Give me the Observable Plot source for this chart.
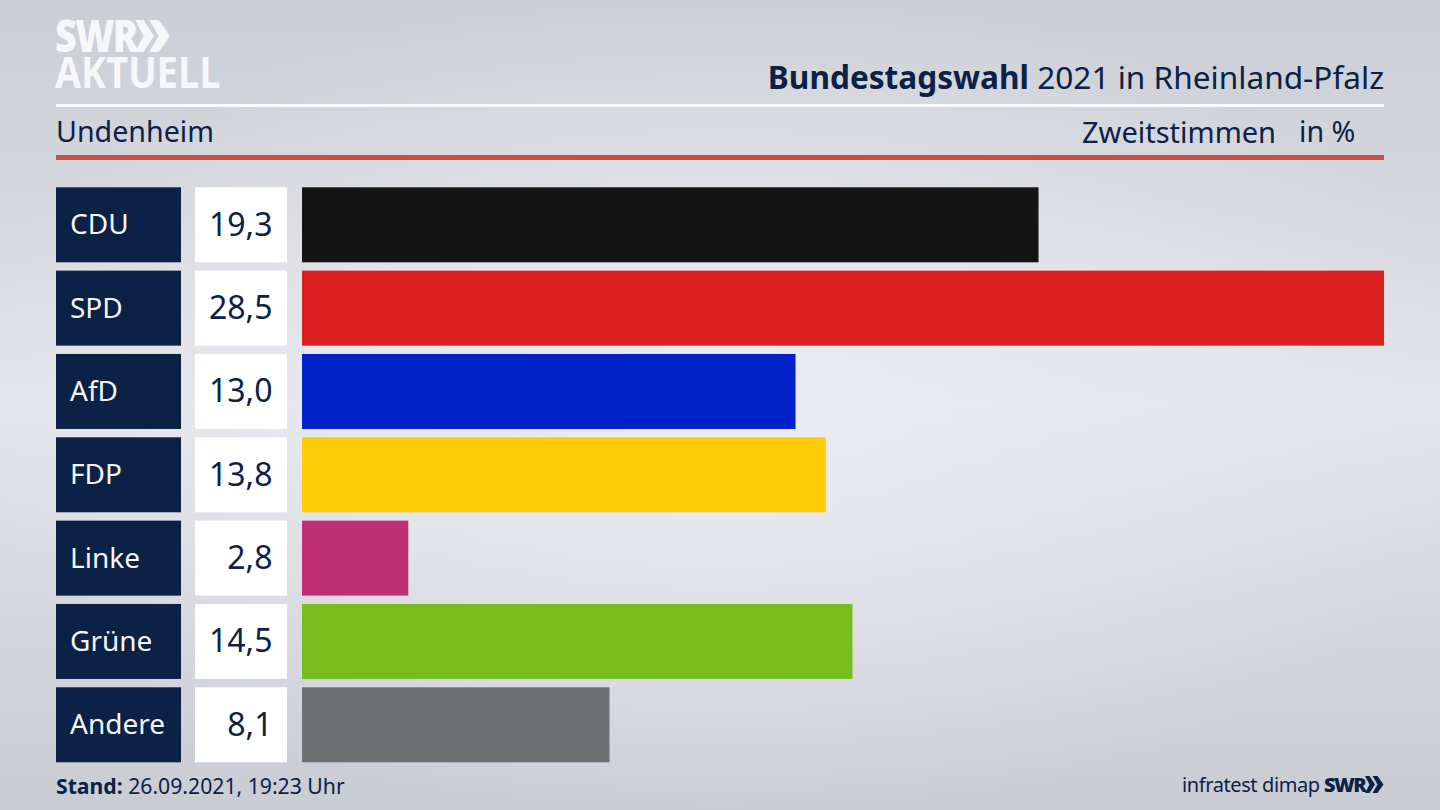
<!DOCTYPE html>
<html lang="de">
<head>
<meta charset="utf-8">
<script src="https://cdn.jsdelivr.net/npm/d3@7"></script>
<script src="https://cdn.jsdelivr.net/npm/@observablehq/plot@0.6"></script>
<style>
html,body{margin:0;padding:0;width:1440px;height:810px;overflow:hidden}
body{position:relative;font-family:"Noto Sans",sans-serif;color:#0b2145;
background:
 radial-gradient(ellipse 780px 420px at 50% 50%,rgba(236,237,242,.9) 0%,rgba(236,237,242,0) 100%),
 linear-gradient(180deg,#cbced5 0%,#d5d7dd 25%,#e4e5ea 50%,#d5d7dd 75%,#c9ccd3 100%);}
.t{position:absolute;white-space:nowrap;line-height:1}
.rule{position:absolute;left:56px;width:1328px}
.col{position:absolute;top:0}
.col svg{display:block}
</style>
</head>
<body>
<div class="t" style="left:55px;top:19px;font:900 45px/32px 'Open Sans',sans-serif;color:#f6f7f9;letter-spacing:-2px;transform:scaleX(.84);transform-origin:left top">SWR</div>
<svg style="position:absolute;left:135px;top:20px" width="36" height="32" viewBox="0 0 38 34" fill="#f6f7f9"><path d="M0 0 L9 0 L20 17 L9 34 L0 34 L9 17Z"/><path d="M15 0 L25 0 L37 17 L25 34 L15 34 L25 17Z"/></svg>
<div class="t" style="left:55px;top:56px;font:700 43px/31px 'Open Sans',sans-serif;color:#f6f7f9;letter-spacing:0;transform:scaleX(.88);transform-origin:left top">AKTUELL</div>
<div class="t" style="right:56px;top:61px;font-size:31.6px"><b>Bundestagswahl</b> 2021 in Rheinland-Pfalz</div>
<div class="rule" style="top:104px;height:3px;background:#fbfbfc"></div>
<div class="t" style="left:56px;top:117px;font-size:28.6px">Undenheim</div>
<div class="t" style="left:1082px;top:117px;font-size:29px">Zweitstimmen</div>
<div class="t" style="left:1299px;top:117px;font-size:28.6px">in %</div>
<div class="rule" style="top:155px;height:5px;background:#c9503f"></div>
<div class="col" id="names" style="left:56px"></div>
<div class="col" id="vals" style="left:195px"></div>
<div class="col" id="bars" style="left:302px"></div>
<div class="t" style="left:56px;top:775px;font-size:21.2px"><b>Stand:</b> 26.09.2021, 19:23 Uhr</div>
<div class="t" style="left:1182px;top:775px;font-size:20px;letter-spacing:-.4px">infratest dimap</div>
<div class="t" style="left:1324px;top:776px;font:900 20px/17px 'Open Sans',sans-serif;letter-spacing:-1.5px">SWR</div>
<svg style="position:absolute;left:1365px;top:776px" width="19" height="17" viewBox="0 0 38 34" fill="#0b2145"><path d="M0 0 L9 0 L20 17 L9 34 L0 34 L9 17Z"/><path d="M15 0 L25 0 L37 17 L25 34 L15 34 L25 17Z"/></svg>
<script>
const parties = ["CDU","SPD","AfD","FDP","Linke","Grüne","Andere"];
const valueLabels = ["19,3","28,5","13,0","13,8","2,8","14,5","8,1"];
// Bar lengths (the CDU bar is drawn slightly longer than its printed 19,3).
const barValues = [19.4,28.5,13.0,13.8,2.8,14.5,8.1];
const barColors = ["#141414","#d9201f","#0022c8","#ffcc08","#be3075","#78bd1b","#6f7072"];
const navy = "#0b2145";

const rows = parties.map((party,i)=>({party,label:valueLabels[i],value:barValues[i],color:barColors[i]}));
const yScale = {domain:parties,paddingInner:0.1,paddingOuter:0,round:false,axis:null};
const frame = {height:810,marginTop:187.3,marginBottom:47.7,marginLeft:0,marginRight:0,
  style:{background:"transparent",fontFamily:"'Noto Sans',sans-serif",overflow:"visible"}};

document.getElementById("names").append(Plot.plot({...frame,width:125,
  x:{domain:[0,1],axis:null},y:yScale,
  marks:[
    Plot.barX(rows,{x:()=>1,y:"party",fill:navy}),
    Plot.text(rows,{text:"party",y:"party",frameAnchor:"left",dx:13.5,fill:"#f4f6f9",fontSize:28})
  ]}));

document.getElementById("vals").append(Plot.plot({...frame,width:92,
  x:{domain:[0,1],axis:null},y:yScale,
  marks:[
    Plot.barX(rows,{x:()=>1,y:"party",fill:"#ffffff"}),
    Plot.text(rows,{text:"label",y:"party",frameAnchor:"right",dx:-15,fill:navy,fontSize:32})
  ]}));

document.getElementById("bars").append(Plot.plot({...frame,width:1082,
  x:{domain:[0,28.5],axis:null},y:yScale,
  marks:[
    Plot.barX(rows,{x:"value",y:"party",fill:"color"})
  ]}));
</script>
</body>
</html>
